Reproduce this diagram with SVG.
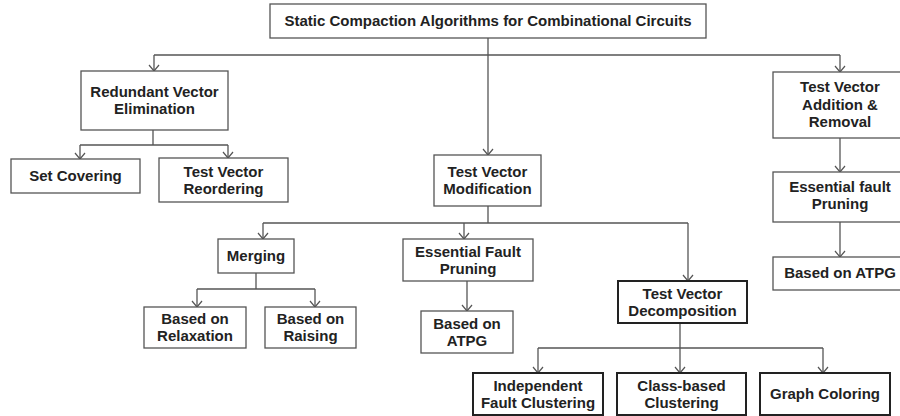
<svg xmlns="http://www.w3.org/2000/svg" width="900" height="416" viewBox="0 0 900 416">
<style>
.box{fill:#fff;stroke:#555;stroke-width:1.3}
.bold{fill:#fff;stroke:#222;stroke-width:2}
text{font-family:"Liberation Sans",Arial,sans-serif;font-weight:bold;font-size:15px;fill:#222;text-anchor:middle}
.c{fill:none;stroke:#555;stroke-width:1.3}
</style>
<defs>
<marker id="arr" markerUnits="userSpaceOnUse" markerWidth="10" markerHeight="12" refX="0" refY="0" orient="auto" overflow="visible">
<path d="M-6,-5 L0,0 L-6,5" fill="none" stroke="#555" stroke-width="1.2"/>
</marker>
</defs>
<rect width="900" height="416" fill="#fff"/>
<g id="connectors">
<path class="c" d="M488,38 V155" marker-end="url(#arr)"/>
<path class="c" d="M154,55 H840"/>
<path class="c" d="M154,55 V71" marker-end="url(#arr)"/>
<path class="c" d="M840,55 V72" marker-end="url(#arr)"/>
<path class="c" d="M153,130 V145 M80,145 H228"/>
<path class="c" d="M80,145 V159" marker-end="url(#arr)"/>
<path class="c" d="M228,145 V158" marker-end="url(#arr)"/>
<path class="c" d="M488,206 V223 M263,223 H688"/>
<path class="c" d="M263,223 V239" marker-end="url(#arr)"/>
<path class="c" d="M464,223 V239" marker-end="url(#arr)"/>
<path class="c" d="M688,223 V281" marker-end="url(#arr)"/>
<path class="c" d="M256,273 V289 M197,289 H315"/>
<path class="c" d="M197,289 V307" marker-end="url(#arr)"/>
<path class="c" d="M315,289 V307" marker-end="url(#arr)"/>
<path class="c" d="M467,281 V311" marker-end="url(#arr)"/>
<path class="c" d="M680,323 V348 M538,348 H823"/>
<path class="c" d="M538,348 V373" marker-end="url(#arr)"/>
<path class="c" d="M680,348 V373" marker-end="url(#arr)"/>
<path class="c" d="M823,348 V373" marker-end="url(#arr)"/>
<path class="c" d="M840,138 V172" marker-end="url(#arr)"/>
<path class="c" d="M840,222 V257" marker-end="url(#arr)"/>
</g>
<g id="root"><rect class="box" x="270" y="4" width="436" height="34"/><text x="488" y="26">Static Compaction Algorithms for Combinational Circuits</text></g>
<g id="rve"><rect class="box" x="81" y="71" width="147" height="59"/><text x="154.5" y="97">Redundant Vector</text><text x="154.5" y="114">Elimination</text></g>
<g id="setcov"><rect class="box" x="11" y="159" width="129" height="34"/><text x="75.5" y="181">Set Covering</text></g>
<g id="tvr"><rect class="box" x="159" y="158" width="129" height="44"/><text x="223.5" y="176.5">Test Vector</text><text x="223.5" y="193.5">Reordering</text></g>
<g id="tvm"><rect class="box" x="434" y="155" width="107" height="51"/><text x="487.5" y="176.5">Test Vector</text><text x="487.5" y="193.5">Modification</text></g>
<g id="tvar"><rect class="box" x="773" y="72" width="130" height="66"/><text x="840" y="92">Test Vector</text><text x="840" y="110">Addition &amp;</text><text x="840" y="127">Removal</text></g>
<g id="efpr"><rect class="box" x="773" y="172" width="130" height="50"/><text x="840" y="192">Essential fault</text><text x="840" y="209">Pruning</text></g>
<g id="atpgr"><rect class="box" x="773" y="257" width="130" height="33"/><text x="840" y="278">Based on ATPG</text></g>
<g id="merging"><rect class="box" x="218" y="239" width="76" height="34"/><text x="256" y="261">Merging</text></g>
<g id="relax"><rect class="box" x="144" y="307" width="102" height="41"/><text x="195" y="324">Based on</text><text x="195" y="341">Relaxation</text></g>
<g id="raising"><rect class="box" x="265" y="307" width="91" height="41"/><text x="310.5" y="324">Based on</text><text x="310.5" y="341">Raising</text></g>
<g id="efpm"><rect class="box" x="403" y="239" width="130" height="42"/><text x="468" y="256.5">Essential Fault</text><text x="468" y="273.5">Pruning</text></g>
<g id="atpgm"><rect class="box" x="421" y="311" width="92" height="42"/><text x="467" y="328.5">Based on</text><text x="467" y="345.5">ATPG</text></g>
<g id="tvd"><rect class="bold" x="618" y="281" width="129" height="42"/><text x="682.5" y="298.5">Test Vector</text><text x="682.5" y="315.5">Decomposition</text></g>
<g id="ifc"><rect class="bold" x="473" y="373" width="130" height="42"/><text x="538" y="390.5">Independent</text><text x="538" y="407.5">Fault Clustering</text></g>
<g id="cbc"><rect class="bold" x="617" y="373" width="129" height="42"/><text x="681.5" y="390.5">Class-based</text><text x="681.5" y="407.5">Clustering</text></g>
<g id="gc"><rect class="bold" x="760" y="373" width="130" height="42"/><text x="825" y="399">Graph Coloring</text></g>
</svg>
